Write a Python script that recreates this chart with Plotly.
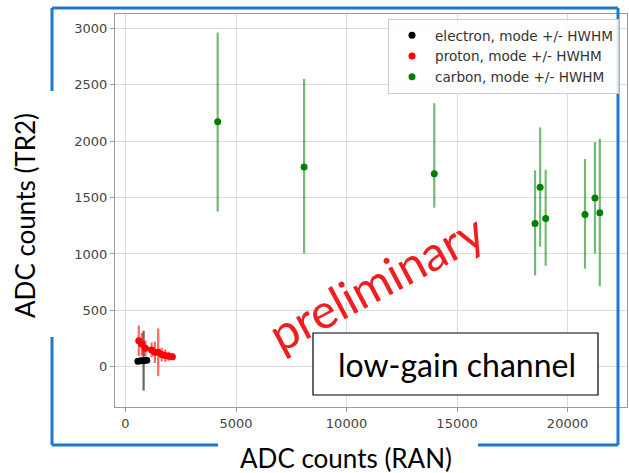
import plotly.graph_objects as go

# ---- data: mode +/- HWHM per particle species ----
electron_ran = [560, 700, 820, 960]
electron_tr2 = [50, 55, 55, 58]
electron_hwhm = [25, 30, 265, 20]

proton_ran = [600, 740, 900, 1180, 1330, 1480, 1640, 1800, 1960, 2120]
proton_tr2 = [231, 200, 165, 150, 130, 130, 110, 100, 95, 90]
proton_hwhm = [135, 100, 70, 65, 95, 210, 60, 55, 40, 30]

carbon_ran = [4170, 8080, 13970, 18530, 18760, 19010, 20790, 21240, 21460]
carbon_tr2 = [2170, 1770, 1710, 1270, 1590, 1315, 1350, 1495, 1365]
carbon_hwhm_hi = [790, 780, 625, 470, 530, 430, 490, 495, 655]
carbon_hwhm_lo = [795, 765, 300, 460, 525, 420, 480, 490, 650]

x_ticks = [0, 5000, 10000, 15000, 20000]
y_ticks = [0, 500, 1000, 1500, 2000, 2500, 3000]

# ---- canvas geometry (pixels) ----
FIG_W, FIG_H = 629, 473
M_L, M_R, M_T, M_B = 115, 2, 14, 66
PW, PH = FIG_W - M_L - M_R, FIG_H - M_T - M_B


def px(x):
    return (x - M_L) / PW


def py(y):
    return (FIG_H - M_B - y) / PH


fig = go.Figure()


def add_series(name, xs, ys, hi, lo, mcolor, ecolor):
    fig.add_trace(go.Scatter(
        x=xs, y=ys, mode="markers", name=name,
        marker=dict(color=mcolor, size=7),
        error_y=dict(type="data", array=hi, arrayminus=lo, symmetric=False,
                     color=ecolor, thickness=2.2, width=0),
    ))


add_series("electron, mode +/- HWHM", electron_ran, electron_tr2,
           electron_hwhm, electron_hwhm, "#000000", "rgba(0,0,0,0.6)")
add_series("proton, mode +/- HWHM", proton_ran, proton_tr2,
           proton_hwhm, proton_hwhm, "#ff0000", "rgba(255,0,0,0.6)")
add_series("carbon, mode +/- HWHM", carbon_ran, carbon_tr2,
           carbon_hwhm_hi, carbon_hwhm_lo, "#007f00", "rgba(0,128,0,0.55)")

axis_common = dict(
    showgrid=True, gridcolor="#dcdcdc", gridwidth=1,
    zeroline=False, showline=True, linecolor="#9a9a9a", linewidth=1, mirror=True,
    ticks="outside", ticklen=4, tickcolor="#9a9a9a",
    tickfont=dict(family="DejaVu Sans", size=13, color="#444444"),
)

fig.update_xaxes(range=[-475, 22690], tickvals=x_ticks,
                 ticktext=[str(v) for v in x_ticks], **axis_common)
fig.update_yaxes(range=[-355, 3125], tickvals=y_ticks,
                 ticktext=[str(v) for v in y_ticks], **axis_common)

# frame around the figure, interrupted where the axis titles sit
BLUE = "#1f78c8"
frame = [
    (52, 8, 618, 8),
    (618, 8, 618, 445),
    (52, 8, 52, 91),
    (52, 337, 52, 445),
    (52, 445, 218, 445),
    (478, 445, 618, 445),
]
shapes = []
for x0, y0, x1, y1 in frame:
    shapes.append(dict(type="line", xref="paper", yref="paper",
                       x0=px(x0), y0=py(y0), x1=px(x1), y1=py(y1),
                       line=dict(color=BLUE, width=3), layer="above"))

# boxed channel label
shapes.append(dict(type="rect", xref="paper", yref="paper",
                   x0=px(313), y0=py(395), x1=px(598), y1=py(333),
                   fillcolor="white", line=dict(color="black", width=1.2),
                   layer="above"))

annotations = [
    dict(text="low-gain channel", xref="paper", yref="paper",
         x=px(457), y=py(364), xanchor="center", yanchor="middle",
         showarrow=False, font=dict(family="Lato", size=32, color="black")),
    dict(text="preliminary", xref="paper", yref="paper",
         x=px(376), y=py(281), xanchor="center", yanchor="middle",
         textangle=-28, showarrow=False,
         font=dict(family="Lato", size=48, color="#f01e1e")),
    dict(text="ADC counts (RAN)", xref="paper", yref="paper",
         x=px(346), y=py(458), xanchor="center", yanchor="middle",
         showarrow=False, font=dict(family="Lato", size=26, color="black")),
    dict(text="ADC counts (TR2)", xref="paper", yref="paper",
         x=px(25), y=py(216), xanchor="center", yanchor="middle",
         textangle=-90, showarrow=False,
         font=dict(family="Lato", size=26, color="black")),
]

fig.update_layout(
    width=FIG_W, height=FIG_H,
    margin=dict(l=M_L, r=M_R, t=M_T, b=M_B, autoexpand=False),
    paper_bgcolor="white", plot_bgcolor="white",
    shapes=shapes, annotations=annotations,
    legend=dict(x=px(388), y=py(19), xanchor="left", yanchor="top",
                bgcolor="rgba(255,255,255,0.85)", bordercolor="#cccccc",
                borderwidth=1, tracegroupgap=0, itemwidth=36,
                font=dict(family="DejaVu Sans", size=13.6, color="#333333")),
    showlegend=True,
)

fig.write_html("out.html")
